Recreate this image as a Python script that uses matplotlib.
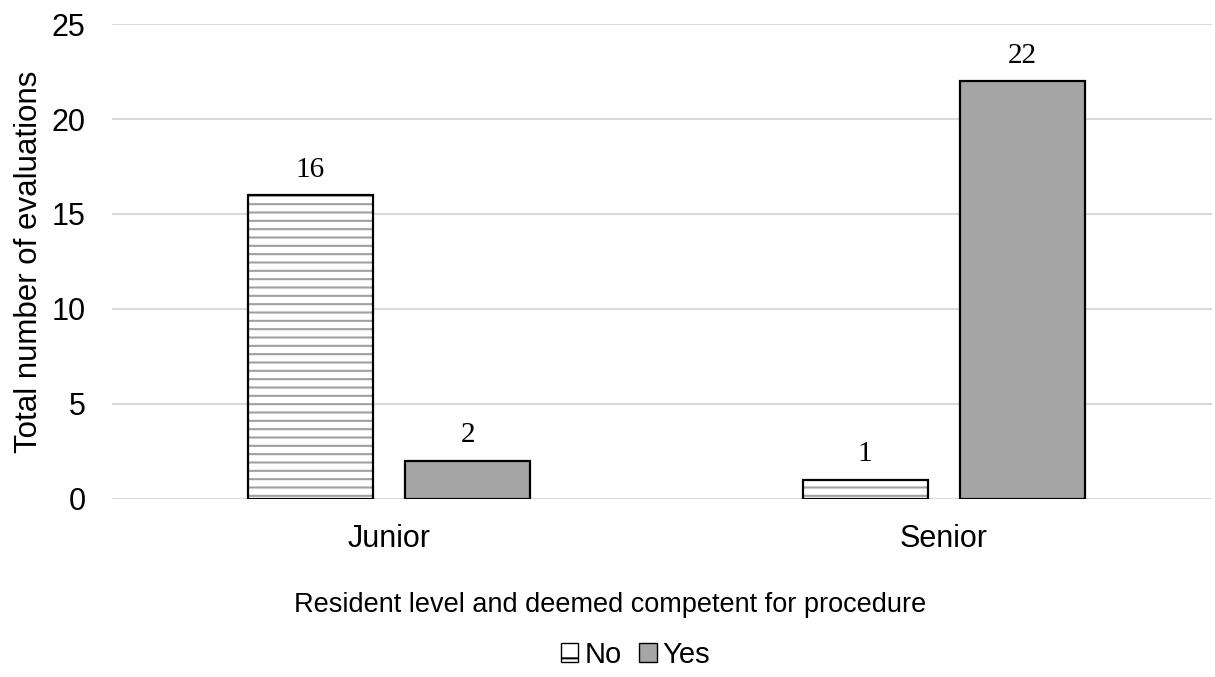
import matplotlib.pyplot as plt
import numpy as np
from matplotlib.patches import Patch

# données
levels = ["Junior", "Senior"]
no_vals = [16, 1]
yes_vals = [2, 22]
yticks = [0, 5, 10, 15, 20, 25]

plt.rcParams['font.family'] = ['Liberation Sans', 'DejaVu Sans']
plt.rcParams['hatch.linewidth'] = 1.5

fig = plt.figure(figsize=(12.15, 6.77), dpi=100)
ax = fig.add_axes([0.0922, 0.263, 0.9053, 0.7015])

x = np.arange(len(levels))
w = 0.225
off = 0.142

# barres "No" : hachures grises puis contour noir
ax.bar(x - off, no_vals, w, color='white', edgecolor='#a0a0a0', hatch='--', linewidth=0, zorder=3)
ax.bar(x - off, no_vals, w, fill=False, edgecolor='black', linewidth=1.6, zorder=4)
ax.bar(x + off, yes_vals, w, color='#a6a6a6', edgecolor='black', linewidth=1.6, zorder=3)

for xi, v in zip(x - off, no_vals):
    ax.annotate(str(v), (xi, v), xytext=(0, 9), textcoords='offset points',
                ha='center', va='bottom', fontsize=21, family='Liberation Serif')
for xi, v in zip(x + off, yes_vals):
    ax.annotate(str(v), (xi, v), xytext=(0, 9), textcoords='offset points',
                ha='center', va='bottom', fontsize=21, family='Liberation Serif')

ax.set_xlim(-0.499, 1.483)
ax.set_ylim(0, 25)
ax.set_yticks(yticks)
ax.set_xticks(x)
ax.set_xticklabels(levels)
ax.tick_params(axis='both', length=0, labelsize=22)
ax.tick_params(axis='y', pad=19)
ax.tick_params(axis='x', pad=18)
ax.grid(axis='y', color='#d9d9d9', linewidth=1.5, zorder=0)
ax.set_axisbelow(True)
for s in ax.spines.values():
    s.set_visible(False)

# titre de l'axe x (un peu à gauche du centre, comme l'original)
fig.text(0.502, 0.106, "Resident level and deemed competent for procedure",
         fontsize=19.5, ha='center', va='center')

# titre de l'axe y, avec fond blanc qui recouvre un peu les graduations
fig.text(0.024, 0.613, "Total number of evaluations", rotation=90, fontsize=22.5,
         ha='center', va='center', zorder=5,
         bbox=dict(facecolor='white', edgecolor='none', pad=5.5))

handles = [Patch(facecolor='white', edgecolor='black', hatch='-', linewidth=1),
           Patch(facecolor='#a6a6a6', edgecolor='black', linewidth=1)]
fig.legend(handles, ["No", "Yes"], loc='center', bbox_to_anchor=(0.523, 0.033), ncol=2,
           frameon=False, fontsize=21, handlelength=0.6, handleheight=0.6,
           handletextpad=0.2, columnspacing=0.6)

fig.savefig("out.png", dpi=100)
